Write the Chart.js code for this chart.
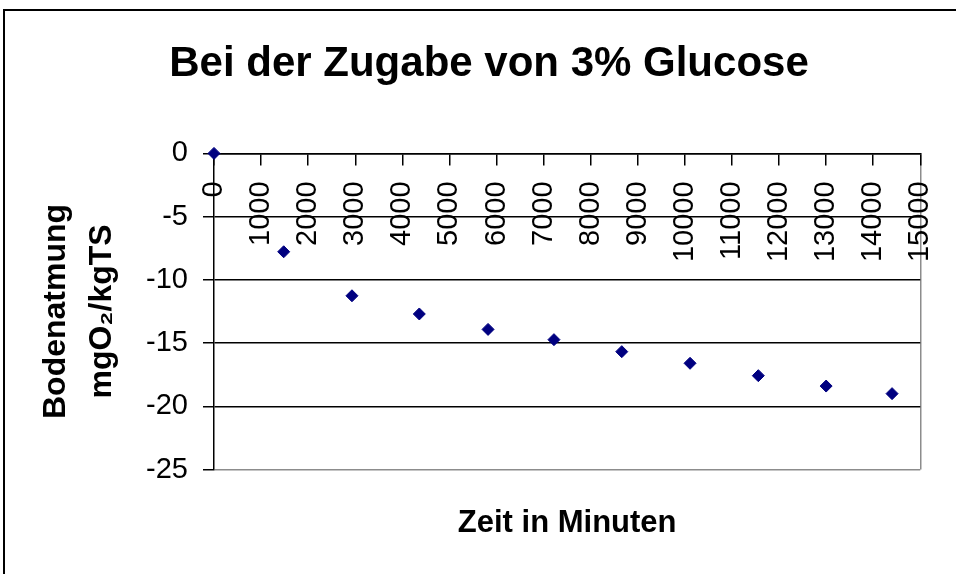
<!DOCTYPE html>
<html>
<head>
<meta charset="utf-8">
<script src="https://cdn.jsdelivr.net/npm/chart.js@4"></script>
<style>
    html, body { margin: 0; padding: 0; background: #fff; overflow: hidden; }
    .frame {
        position: absolute; left: 3px; top: 9px;
        border-left: 2px solid #000; border-top: 2px solid #000;
    }
    .box { position: relative; width: 968px; height: 563px; }
</style>
</head>
<body>
<div class="frame"><div class="box"><canvas id="glucoseChart"></canvas></div></div>
<script>
// Werte
const minutes = [0, 1480, 2930, 4360, 5820, 7220, 8660, 10110, 11560, 13000, 14400];
const respiration = [0, -7.78, -11.26, -12.7, -13.92, -14.73, -15.68, -16.6, -17.58, -18.4, -19.0];
const xTickValues = [0, 1000, 2000, 3000, 4000, 5000, 6000, 7000, 8000, 9000, 10000, 11000, 12000, 13000, 14000, 15000];
const yTickValues = [0, -5, -10, -15, -20, -25];

const FONT = "'Liberation Sans', Arial, sans-serif";

const ctx = document.getElementById('glucoseChart');
new Chart(ctx, {
    type: 'scatter',
    data: {
        datasets: [{
            label: 'Bodenatmung',
            data: minutes.map((m, i) => ({ x: m, y: respiration[i] })),
            pointStyle: 'rectRot',
            pointRadius: 6,
            pointBorderWidth: 1,
            backgroundColor: '#000080',
            borderColor: '#000080',
            clip: false
        }]
    },
    options: {
        animation: false,
        responsive: true,
        maintainAspectRatio: false,
        devicePixelRatio: 1,
        layout: { padding: 0 },
        plugins: {
            legend: { display: false },
            tooltip: { enabled: false },
            title: {
                display: true,
                text: 'Bei der Zugabe von 3% Glucose',
                color: '#000',
                font: { family: FONT, size: 42, weight: 'bold', lineHeight: 1.2 },
                padding: { top: 28, bottom: 64 }
            }
        },
        scales: {
            x: {
                type: 'linear',
                position: { y: 0 },
                min: 0,
                max: 15000,
                afterBuildTicks: (scale) => { scale.ticks = xTickValues.map(v => ({ value: v })); },
                ticks: {
                    autoSkip: false,
                    minRotation: 90,
                    maxRotation: 90,
                    padding: 17,
                    color: '#000',
                    font: { family: FONT, size: 29 },
                    callback: (v) => String(v)
                },
                grid: {
                    color: (c) => (c.tick && c.tick.value === 15000) ? '#8c8c8c' : 'rgba(0,0,0,0)',
                    lineWidth: 1.5,
                    tickColor: '#000',
                    tickLength: 11,
                    tickWidth: 1.5
                },
                border: { color: '#000', width: 1.5 }
            },
            // nur für den Achsentitel unten
            xTitle: {
                type: 'linear',
                axis: 'x',
                position: 'bottom',
                min: 0,
                max: 1,
                afterFit: (scale) => { scale.height = 104.5; },
                ticks: { display: false },
                grid: { display: false, drawTicks: false },
                border: { display: false },
                title: {
                    display: true,
                    text: 'Zeit in Minuten',
                    color: '#000',
                    font: { family: FONT, size: 31, weight: 'bold', lineHeight: 1.2 },
                    padding: { top: 0, bottom: 32 }
                }
            },
            y: {
                min: -25,
                max: 0,
                afterBuildTicks: (scale) => { scale.ticks = yTickValues.map(v => ({ value: v })); },
                afterFit: (scale) => { scale.width = 209; },
                ticks: {
                    padding: 15,
                    color: '#000',
                    font: { family: FONT, size: 29 }
                },
                grid: {
                    color: (c) => (c.tick && c.tick.value === -25) ? '#8c8c8c' : '#000',
                    lineWidth: 1.5,
                    tickColor: '#000',
                    tickLength: 11,
                    tickWidth: 1.5
                },
                border: { color: '#000', width: 1.5 },
                title: {
                    display: true,
                    text: ['Bodenatmung', 'mgO\u2082/kgTS'],
                    color: '#000',
                    font: { family: FONT, size: 32, weight: 'bold', lineHeight: 1.44 },
                    padding: { top: 28, bottom: 0 }
                }
            },
            // rechter Rand
            yRight: {
                type: 'linear',
                axis: 'y',
                position: 'right',
                afterFit: (scale) => { scale.width = 52.7; },
                ticks: { display: false },
                grid: { display: false, drawTicks: false },
                border: { display: false }
            }
        }
    }
});
</script>
</body>
</html>
